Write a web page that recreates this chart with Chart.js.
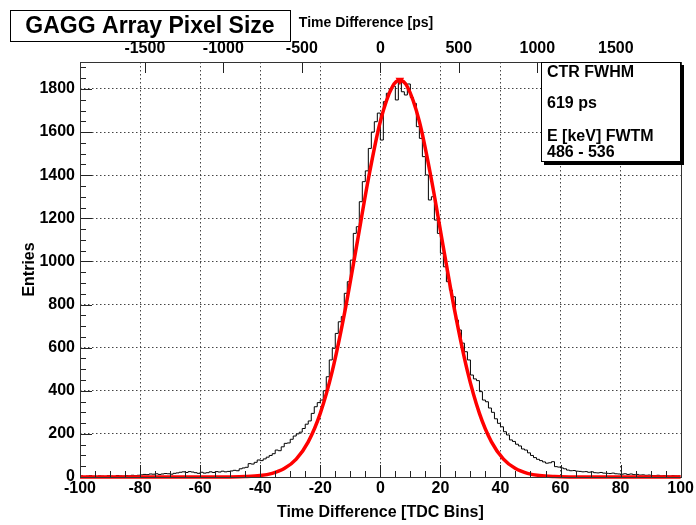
<!DOCTYPE html>
<html>
<head>
<meta charset="utf-8">
<script src="https://cdn.jsdelivr.net/npm/chart.js@4.4.1/dist/chart.umd.min.js"></script>
<style>
  body { margin: 0; background: #fff; }
  #wrap { width: 696px; height: 525px; }
</style>
</head>
<body>
<div id="wrap"><canvas id="histChart" width="696" height="525"></canvas></div>
<script>
// histogram: one bin per TDC unit, first bin starts at -100
const binStart = -100;
const counts = [
  3, 5, 2, 4, 6, 3, 2, 5, 4, 3, 6, 4, 3, 7, 5, 4, 6, 5, 8, 6,
  8, 10, 12, 11, 14, 13, 15, 12, 14, 16,
  15, 13, 17, 19, 22, 24, 21, 25, 23, 20,
  17, 22, 18, 20, 24, 21, 25, 23, 27, 24,
  26, 28, 31, 29, 38, 42, 45, 62, 60, 68,
  79, 76, 84, 92, 100, 108, 125, 122, 140, 156,
  158, 175, 190, 200, 208, 225, 245, 260, 295, 326,
  345, 357, 400, 465, 543, 597, 666, 720, 744, 852,
  906, 1006, 1130, 1161, 1277, 1370, 1420, 1524, 1600, 1648,
  1688, 1563, 1741, 1780, 1800, 1813, 1749, 1838, 1787, 1772,
  1823, 1760, 1733, 1625, 1571, 1486, 1401, 1285, 1300, 1192,
  1130, 1038, 975, 906, 867, 836, 728, 682, 621, 581,
  543, 473, 455, 447, 396, 357, 349, 320, 300, 270,
  249, 233, 210, 195, 172, 165, 152, 144, 130, 125,
  112, 100, 90, 82, 76, 70, 64, 66, 71, 48,
  46, 42, 38, 32, 29, 30, 27, 26, 24, 25,
  22, 24, 20, 19, 21, 18, 17, 16, 18, 15,
  14, 13, 15, 12, 14, 11, 12, 9, 10, 8,
  9, 7, 6, 8, 5, 6, 5, 4, 6, 5
];

// gaussian fit, points
const fitX = [-100, -60, -50, -45, -40, -36, -32, -28, -24, -20, -16, -12, -8, -4, 0, 4, 6.5,
  9, 13, 17, 21, 25, 29, 33, 37, 41, 45, 49, 53, 58, 63, 73, 100];
const fitY = [0, 0, 0.4, 1.8, 6.5, 17, 39, 83, 163, 295, 491, 754, 1064, 1381, 1649, 1810, 1840,
  1810, 1649, 1381, 1064, 754, 491, 295, 163, 83, 39, 17, 6.5, 1.8, 0.4, 0, 0];

const xTicks = [-100, -80, -60, -40, -20, 0, 20, 40, 60, 80, 100];
const yTicks = [0, 200, 400, 600, 800, 1000, 1200, 1400, 1600, 1800];
const psTicks = [-1500, -1000, -500, 0, 500, 1000, 1500];
const psPerBin = 19.13;

const statsLines = ['CTR FWHM', '619 ps', 'E [keV] FWTM', '486 - 536'];

const FONT = "'Liberation Sans', Arial, sans-serif";
Chart.defaults.font.family = FONT;
Chart.defaults.color = '#000';

function histPoints() {
    const pts = counts.map((c, i) => ({ x: binStart + i, y: c }));
    pts.push({ x: binStart + counts.length, y: counts[counts.length - 1] });
    return pts;
}

const peakIdx = fitY.indexOf(Math.max(...fitY));
const plain = (v) => String(v);

// frame, inside ticks, title box, top-axis title, stats box
const decorPlugin = {
    id: 'decor',
    afterDraw(chart) {
        const ctx = chart.ctx;
        const a = chart.chartArea;
        const sx = chart.scales.x, sy = chart.scales.y, st = chart.scales.xTop;
        ctx.save();
        ctx.strokeStyle = '#222';
        ctx.lineWidth = 1;
        ctx.beginPath();
        for (let v = -100; v <= 100; v += 5) {
            const px = Math.round(sx.getPixelForValue(v)) + 0.5;
            const len = v % 20 === 0 ? 12 : 6;
            ctx.moveTo(px, a.bottom);
            ctx.lineTo(px, a.bottom - len);
        }
        for (let v = 0; v <= 1900; v += 50) {
            const py = Math.round(sy.getPixelForValue(v)) + 0.5;
            const len = v % 200 === 0 ? 12 : 6;
            ctx.moveTo(a.left, py);
            ctx.lineTo(a.left + len, py);
        }
        psTicks.forEach(v => {
            const px = Math.round(st.getPixelForValue(v)) + 0.5;
            ctx.moveTo(px, a.top);
            ctx.lineTo(px, a.top + 11);
        });
        ctx.stroke();

        ctx.strokeStyle = '#333';
        ctx.strokeRect(Math.round(a.left) + 0.5, Math.round(a.top) + 0.5,
            Math.round(a.right - a.left), Math.round(a.bottom - a.top));

        // title box
        ctx.fillStyle = '#fff';
        ctx.fillRect(10, 10, 280, 31);
        ctx.strokeStyle = '#000';
        ctx.strokeRect(10.5, 10.5, 280, 31);
        ctx.fillStyle = '#000';
        ctx.font = 'bold 23px ' + FONT;
        ctx.textAlign = 'center';
        ctx.textBaseline = 'middle';
        ctx.fillText('GAGG Array Pixel Size', 150, 27);

        ctx.font = 'bold 14px ' + FONT;
        ctx.fillText('Time Difference [ps]', 366, 23);

        // stats box with shadow
        ctx.fillStyle = '#000';
        ctx.fillRect(544, 65, 140, 100);
        ctx.fillStyle = '#fff';
        ctx.fillRect(541, 62, 139, 99);
        ctx.strokeStyle = '#000';
        ctx.strokeRect(541.5, 62.5, 139, 99);
        ctx.fillStyle = '#000';
        ctx.font = 'bold 16px ' + FONT;
        ctx.textAlign = 'left';
        const ys = [73, 104, 137, 153];
        statsLines.forEach((t, i) => ctx.fillText(t, 547, ys[i]));
        ctx.restore();
    }
};

function gridColor(edge) {
    return (c) => (c.tick && (c.tick.value === edge[0] || c.tick.value === edge[1])) ? 'rgba(0,0,0,0)' : '#444';
}

function renderChart() {
    const ctx = document.getElementById('histChart').getContext('2d');
    new Chart(ctx, {
        type: 'line',
        data: {
            datasets: [{
                label: 'fit',
                data: fitX.map((x, i) => ({ x: x, y: fitY[i] })),
                borderColor: '#ff0000',
                backgroundColor: '#ff0000',
                borderWidth: 3.5,
                cubicInterpolationMode: 'monotone',
                pointStyle: 'triangle',
                rotation: 180,
                pointRadius: (c) => c.dataIndex === peakIdx ? 5 : 0,
                pointBorderWidth: 0,
                fill: false,
                order: 0,
                clip: 4
            }, {
                label: 'hist',
                data: histPoints(),
                borderColor: '#000',
                borderWidth: 1,
                stepped: 'after',
                pointRadius: 0,
                fill: false,
                order: 1
            }]
        },
        options: {
            responsive: false,
            animation: false,
            layout: { padding: { left: 0, right: 14, top: 0, bottom: 0 } },
            plugins: { legend: { display: false }, tooltip: { enabled: false } },
            scales: {
                x: {
                    type: 'linear',
                    position: 'bottom',
                    min: -100,
                    max: 100,
                    afterBuildTicks: (s) => { s.ticks = xTicks.map(v => ({ value: v })); },
                    afterFit: (s) => { s.height = 48; },
                    ticks: { font: { size: 16, weight: 'bold' }, padding: 2, maxRotation: 0, callback: plain },
                    grid: { color: gridColor([-100, 100]), drawTicks: false, lineWidth: 1 },
                    border: { display: false, dash: [1.5, 2.5] },
                    title: {
                        display: true,
                        text: 'Time Difference [TDC Bins]',
                        font: { size: 16, weight: 'bold' },
                        padding: { top: 0, bottom: 3 }
                    }
                },
                xTop: {
                    type: 'linear',
                    position: 'top',
                    min: -100 * psPerBin,
                    max: 100 * psPerBin,
                    afterBuildTicks: (s) => { s.ticks = psTicks.map(v => ({ value: v })); },
                    afterFit: (s) => { s.height = 62; },
                    ticks: { font: { size: 16, weight: 'bold' }, padding: 4, maxRotation: 0, callback: plain },
                    grid: { display: false, drawTicks: false },
                    border: { display: false }
                },
                y: {
                    min: 0,
                    max: 1925,
                    afterBuildTicks: (s) => { s.ticks = yTicks.map(v => ({ value: v })); },
                    afterFit: (s) => { s.width = 80; },
                    ticks: { font: { size: 16, weight: 'bold' }, padding: 5, callback: plain },
                    grid: { color: gridColor([0, 0]), drawTicks: false, lineWidth: 1 },
                    border: { display: false, dash: [1.5, 2.5] },
                    title: {
                        display: true,
                        text: 'Entries',
                        font: { size: 16, weight: 'bold' },
                        padding: { top: 20, bottom: 0 }
                    }
                }
            }
        },
        plugins: [decorPlugin]
    });
}

renderChart();
</script>
</body>
</html>
